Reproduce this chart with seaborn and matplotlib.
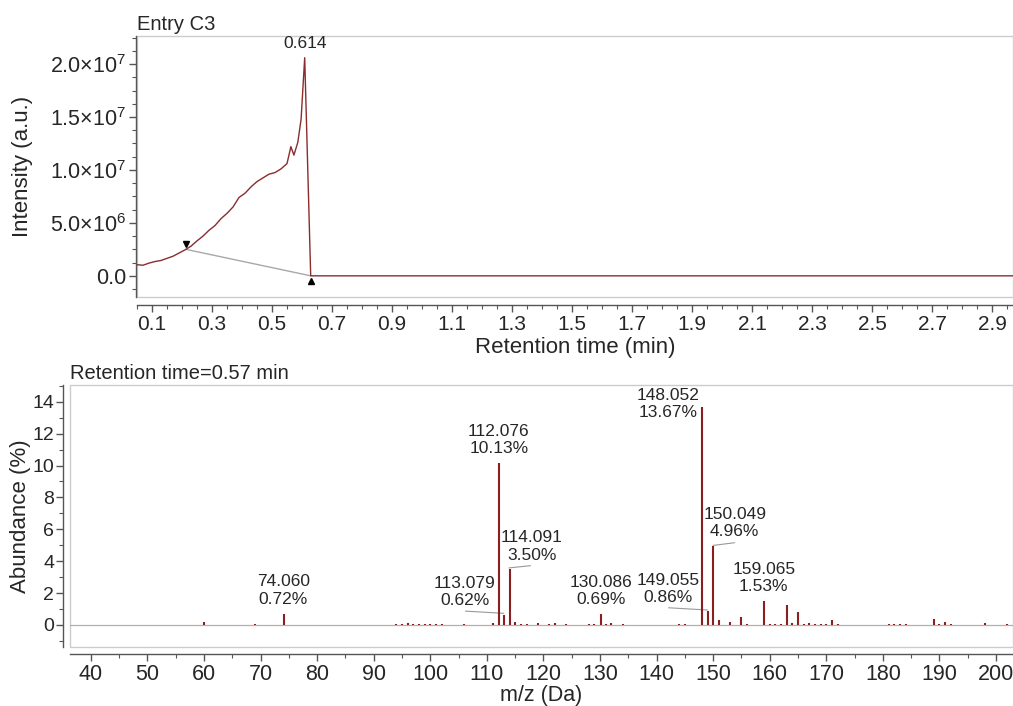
import numpy as np
import pandas as pd
import matplotlib
matplotlib.use("Agg")
import matplotlib.pyplot as plt
import seaborn as sns
from matplotlib.ticker import MultipleLocator, FuncFormatter
from matplotlib.patches import Rectangle

# --- chromatogram (Entry C3) ---
rt_min = [0.05, 0.07, 0.09, 0.11, 0.13, 0.15, 0.17, 0.19, 0.21, 0.23, 0.25,
          0.27, 0.29, 0.31, 0.33, 0.35, 0.37, 0.39, 0.41, 0.43, 0.45, 0.47,
          0.49, 0.51, 0.53, 0.55, 0.563, 0.573, 0.586, 0.597, 0.609, 0.629, 3.0]
intensity = [1.05e6, 1.0e6, 1.2e6, 1.35e6, 1.45e6, 1.65e6, 1.85e6, 2.15e6,
             2.45e6, 2.8e6, 3.3e6, 3.75e6, 4.3e6, 4.75e6, 5.4e6, 5.9e6, 6.5e6,
             7.4e6, 7.8e6, 8.4e6, 8.9e6, 9.25e6, 9.6e6, 9.75e6, 10.1e6, 10.6e6,
             12.2e6, 11.4e6, 12.6e6, 14.8e6, 20.6e6, 0.0, 0.0]
peak_label = "0.614"
peak_rt = 0.609
peak_int = 20.6e6
baseline_rt = [0.213, 0.629]
baseline_int = [2.5e6, 0.0]

# --- mass spectrum at 0.57 min ---
minor_mz = [55, 56, 60, 69, 71, 81, 89, 94, 95, 96, 97, 98, 99, 100, 101, 102,
            106, 109, 111, 115, 116, 117, 119, 121, 122, 124, 126, 128, 129,
            131, 132, 134, 144, 145, 146, 151, 153, 155, 156, 160, 161, 162,
            163, 164, 165, 166, 167, 168, 169, 170, 171, 172, 174, 181, 182,
            183, 184, 186, 189, 190, 191, 192, 198, 202]
minor_pct = [0.03, 0.03, 0.17, 0.04, 0.03, 0.03, 0.03, 0.04, 0.06, 0.10, 0.06,
             0.05, 0.05, 0.04, 0.04, 0.04, 0.04, 0.03, 0.10, 0.17, 0.05, 0.04,
             0.15, 0.05, 0.15, 0.05, 0.03, 0.08, 0.05, 0.05, 0.10, 0.05, 0.05,
             0.04, 0.03, 0.33, 0.17, 0.48, 0.05, 0.06, 0.05, 0.06, 1.23, 0.12,
             0.79, 0.08, 0.10, 0.06, 0.06, 0.09, 0.31, 0.09, 0.03, 0.04, 0.06,
             0.05, 0.04, 0.03, 0.37, 0.05, 0.17, 0.04, 0.10, 0.04]
label_mz = [74.060, 112.076, 113.079, 114.091, 130.086, 148.052, 149.055,
            150.049, 159.065]
label_pct = [0.72, 10.13, 0.62, 3.50, 0.69, 13.67, 0.86, 4.96, 1.53]

# label placement (center of the two-line label, in data units) and leader lines
label_xy = [(74.0, 2.17), (112.1, 11.6), (106.1, 2.07), (117.9, 4.93),
            (130.1, 2.12), (142.0, 13.85), (142.1, 2.26), (153.8, 6.39),
            (158.95, 2.95)]
leaders = {113.079: [(106.2, 113.0), (0.87, 0.73)],
           114.091: [(113.9, 117.7), (3.58, 3.72)],
           149.055: [(142.1, 149.0), (1.08, 0.94)],
           150.049: [(150.0, 153.8), (4.99, 5.16)]}

line_red = "#8a2c2c"
bar_red = "#8a1f1f"
spine_col = "#555555"
box_col = "#cccccc"

sns.set_theme(style="ticks")
plt.rcParams['font.family'] = ['Liberation Sans', 'DejaVu Sans']
plt.rcParams['mathtext.default'] = 'regular'

fig = plt.figure(figsize=(10.13, 7.06), dpi=100)
ax1 = fig.add_axes([137 / 1013, 1 - 297 / 706, 1 - 137 / 1013, 261 / 706])
ax2 = fig.add_axes([70 / 1013, 1 - 647 / 706, 1 - 70 / 1013, 262 / 706])


def style_axes(ax, off_left, off_bottom):
    ax.spines['top'].set_visible(False)
    ax.spines['right'].set_visible(False)
    ax.spines['left'].set_position(('outward', off_left))
    ax.spines['bottom'].set_position(('outward', off_bottom))
    for s in ('left', 'bottom'):
        ax.spines[s].set_color(spine_col)
        ax.spines[s].set_linewidth(1.0)
    ax.add_patch(Rectangle((0, 0), 1, 1, transform=ax.transAxes, fill=False,
                           edgecolor=box_col, lw=1.0, clip_on=False, zorder=0))
    ax.tick_params(which='major', direction='out', length=5, width=1,
                   color=spine_col, pad=2)
    ax.tick_params(which='minor', direction='out', length=3, width=0.8,
                   color=spine_col)
    ax.grid(False)


# top: chromatogram
chrom = pd.DataFrame({"rt": rt_min, "intensity": intensity})
sns.lineplot(data=chrom, x="rt", y="intensity", ax=ax1, color=line_red,
             lw=1.0, estimator=None, sort=False)
ax1.plot(baseline_rt, baseline_int, color="#a8a8a8", lw=1.0, zorder=1)
ax1.plot([baseline_rt[0]], [baseline_int[0] + 0.5e6], marker='v', color='black',
         ms=5, ls='none')
ax1.plot([baseline_rt[1]], [baseline_int[1] - 0.45e6], marker='^', color='black',
         ms=5, ls='none')
ax1.text(peak_rt, peak_int + 0.6e6, peak_label, ha='center', va='bottom',
         fontsize=12.5)

ax1.set_xlim(0.05, 2.97)
ax1.set_ylim(-2.0e6, 2.265e7)
ax1.xaxis.set_major_locator(MultipleLocator(0.2, offset=0.1))
ax1.xaxis.set_minor_locator(MultipleLocator(0.05))
ax1.yaxis.set_major_locator(MultipleLocator(5e6))
ax1.yaxis.set_minor_locator(MultipleLocator(1.25e6))


def sci_fmt(v, pos):
    if abs(v) < 1:
        return "0.0"
    e = int(np.floor(np.log10(abs(v))))
    return f"{v / 10 ** e:.1f}×10$^{{{e}}}$"


ax1.yaxis.set_major_formatter(FuncFormatter(sci_fmt))
ax1.xaxis.set_major_formatter(FuncFormatter(lambda v, p: f"{v:.1f}"))
style_axes(ax1, 1, 6)
ax1.tick_params(axis='x', labelsize=15)
ax1.tick_params(axis='y', labelsize=15.5)
ax1.set_xlabel("Retention time (min)", fontsize=16, labelpad=2)
ax1.set_ylabel("Intensity (a.u.)", fontsize=16)
ax1.yaxis.set_label_coords((33 - 137) / 876, 0.5)
ax1.set_title("Entry C3", loc='left', fontsize=14.5, pad=4)

# bottom: spectrum
ax2.axhline(0, color="#b0b0b0", lw=0.9, zorder=1)
all_mz = minor_mz + label_mz
all_pct = minor_pct + label_pct
ax2.vlines(all_mz, 0, all_pct, color=bar_red, lw=1.5, zorder=2)
for m, p, (tx, ty) in zip(label_mz, label_pct, label_xy):
    ax2.text(tx, ty, f"{m:.3f}\n{p:.2f}%", ha='center', va='center',
             fontsize=12.5, linespacing=1.2)
    if m in leaders:
        xs, ys = leaders[m]
        ax2.plot(xs, ys, color="#999999", lw=0.8, zorder=1)

ax2.set_xlim(36.3, 203)
ax2.set_ylim(-1.38, 15.05)
ax2.xaxis.set_major_locator(MultipleLocator(10))
ax2.xaxis.set_minor_locator(MultipleLocator(5))
ax2.yaxis.set_major_locator(MultipleLocator(2))
ax2.yaxis.set_minor_locator(MultipleLocator(1))
style_axes(ax2, 5, 5)
ax2.tick_params(axis='x', labelsize=15.5)
ax2.tick_params(axis='y', labelsize=14, pad=1.5)
ax2.set_xlabel("m/z (Da)", fontsize=15.5, labelpad=0)
ax2.set_ylabel("Abundance (%)", fontsize=16)
ax2.yaxis.set_label_coords((31 - 70) / 943, 0.5)
ax2.set_title("Retention time=0.57 min", loc='left', fontsize=14.5, pad=4)

fig.savefig("out.png", dpi=100)
